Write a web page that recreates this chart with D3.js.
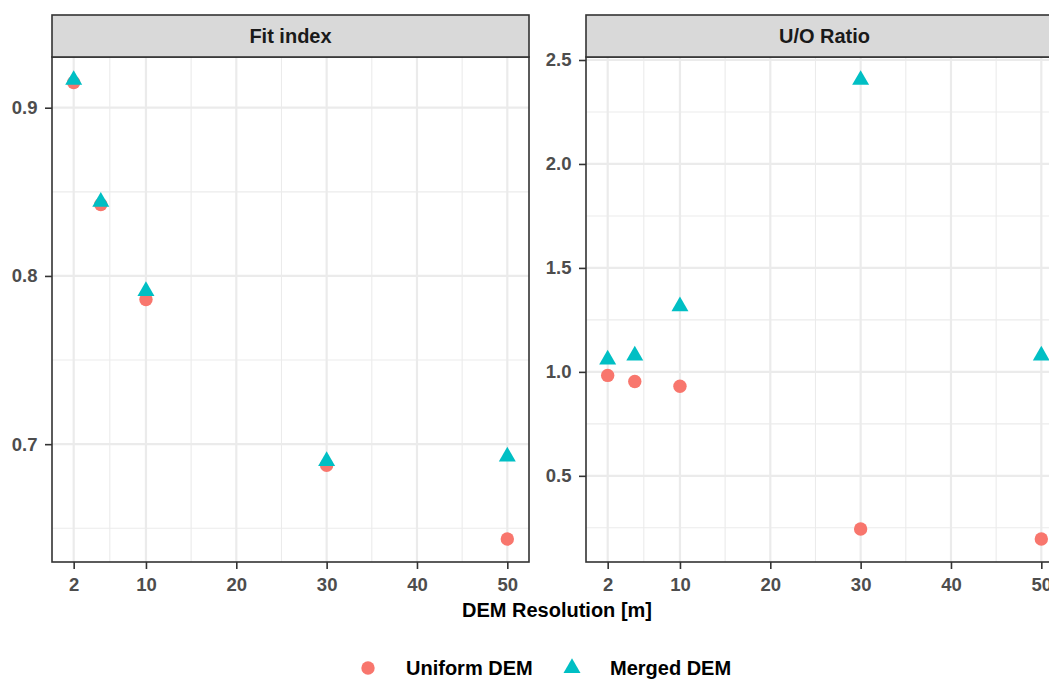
<!DOCTYPE html>
<html>
<head>
<meta charset="utf-8">
<script src="https://cdn.jsdelivr.net/npm/d3@7/dist/d3.min.js"></script>
<style>
  body { margin: 0; background: #ffffff; }
  svg { display: block; font-family: Arial, "Liberation Sans", sans-serif; font-weight: bold; }
</style>
</head>
<body>
<div id="chart"></div>
<script>
// Values
const resolutions = [2, 5, 10, 30, 50];
const fitUniform = [0.915, 0.8425, 0.786, 0.6875, 0.6436];
const fitMerged = [0.9165, 0.844, 0.791, 0.690, 0.6926];
const uoUniform = [0.983, 0.954, 0.931, 0.244, 0.196];
const uoMerged = [1.059, 1.078, 1.315, 2.404, 1.078];

const facetNames = ["Fit index", "U/O Ratio"];
const seriesNames = ["Uniform DEM", "Merged DEM"];
const seriesColors = ["#F8766D", "#00BFC4"];

const xTicks = [2, 10, 20, 30, 40, 50];
const xMinor = [6, 15, 25, 35, 45];
const fitTicks = [0.7, 0.8, 0.9];
const fitMinor = [0.65, 0.75, 0.85];
const uoTicks = [0.5, 1.0, 1.5, 2.0, 2.5];
const uoMinor = [0.25, 0.75, 1.25, 1.75, 2.25];

const width = 1049, height = 680;
const panelTop = 57, panelBottom = 562, panelWidth = 477;
const panelLefts = [52, 586];
const stripTop = 15;

const svg = d3.select("#chart").append("svg")
    .attr("width", width)
    .attr("height", height);

// ggplot style 5% expansion of the data range
function expanded(values) {
    const [lo, hi] = d3.extent(values);
    const pad = (hi - lo) * 0.05;
    return [lo - pad, hi + pad];
}

const circle = d3.symbol().type(d3.symbolCircle).size(141);
const triangle = d3.symbol().type(d3.symbolTriangle).size(125);
const shapes = [circle, triangle];

function drawPanel(i, series, yTicks, yMinor) {
    const left = panelLefts[i];
    const x = d3.scaleLinear().domain(expanded(resolutions)).range([left, left + panelWidth]);
    const y = d3.scaleLinear().domain(expanded(series.flat())).range([panelBottom, panelTop]);

    const g = svg.append("g").attr("class", "panel");

    g.append("rect")
        .attr("x", left).attr("y", panelTop)
        .attr("width", panelWidth).attr("height", panelBottom - panelTop)
        .attr("fill", "#ffffff");

    // minor then major grid
    g.selectAll(".vminor").data(xMinor).enter().append("line")
        .attr("x1", d => x(d)).attr("x2", d => x(d))
        .attr("y1", panelTop).attr("y2", panelBottom)
        .attr("stroke", "#EBEBEB").attr("stroke-width", 1.1);
    g.selectAll(".hminor").data(yMinor).enter().append("line")
        .attr("x1", left).attr("x2", left + panelWidth)
        .attr("y1", d => y(d)).attr("y2", d => y(d))
        .attr("stroke", "#EBEBEB").attr("stroke-width", 1.1);
    g.selectAll(".vmajor").data(xTicks).enter().append("line")
        .attr("x1", d => x(d)).attr("x2", d => x(d))
        .attr("y1", panelTop).attr("y2", panelBottom)
        .attr("stroke", "#EBEBEB").attr("stroke-width", 2.2);
    g.selectAll(".hmajor").data(yTicks).enter().append("line")
        .attr("x1", left).attr("x2", left + panelWidth)
        .attr("y1", d => y(d)).attr("y2", d => y(d))
        .attr("stroke", "#EBEBEB").attr("stroke-width", 2.2);

    // points: uniform first, merged drawn over it
    series.forEach((vals, s) => {
        g.selectAll(".pt" + s).data(vals).enter().append("path")
            .attr("d", shapes[s])
            .attr("transform", (d, k) => `translate(${x(resolutions[k])},${y(d)})`)
            .attr("fill", seriesColors[s]);
    });

    g.append("rect")
        .attr("x", left).attr("y", panelTop)
        .attr("width", panelWidth).attr("height", panelBottom - panelTop)
        .attr("fill", "none").attr("stroke", "#333333").attr("stroke-width", 1.6);

    // strip
    g.append("rect")
        .attr("x", left).attr("y", stripTop)
        .attr("width", panelWidth).attr("height", panelTop - stripTop)
        .attr("fill", "#D9D9D9").attr("stroke", "#333333").attr("stroke-width", 1.6);
    g.append("text")
        .attr("x", left + panelWidth / 2).attr("y", (stripTop + panelTop) / 2)
        .attr("dy", "0.36em")
        .attr("text-anchor", "middle")
        .style("font-size", "20px")
        .style("fill", "#1A1A1A")
        .text(facetNames[i]);

    // axes
    const yAxis = g.append("g")
        .attr("transform", `translate(${left},0)`)
        .call(d3.axisLeft(y).tickValues(yTicks).tickSize(7).tickPadding(7.5).tickFormat(d3.format(".1f")));
    const xAxis = g.append("g")
        .attr("transform", `translate(0,${panelBottom})`)
        .call(d3.axisBottom(x).tickValues(xTicks).tickSize(7).tickPadding(9).tickFormat(d3.format("d")));

    [yAxis, xAxis].forEach(ax => {
        ax.select(".domain").remove();
        ax.selectAll(".tick line").attr("stroke", "#333333").attr("stroke-width", 1.6);
        ax.selectAll(".tick text")
            .style("font-size", "18.5px")
            .style("font-family", "Arial, 'Liberation Sans', sans-serif")
            .style("font-weight", "bold")
            .attr("fill", "#4D4D4D");
    });
}

drawPanel(0, [fitUniform, fitMerged], fitTicks, fitMinor);
drawPanel(1, [uoUniform, uoMerged], uoTicks, uoMinor);

// shared axis title
svg.append("text")
    .attr("x", 557).attr("y", 610)
    .attr("dy", "0.36em")
    .attr("text-anchor", "middle")
    .style("font-size", "20px")
    .style("fill", "#000000")
    .text("DEM Resolution [m]");

// legend
const legendKeys = [368, 572];
const legendLabels = [406, 610];
const legendY = 668;
seriesNames.forEach((name, s) => {
    svg.append("path")
        .attr("d", shapes[s])
        .attr("transform", `translate(${legendKeys[s]},${legendY})`)
        .attr("fill", seriesColors[s]);
    svg.append("text")
        .attr("x", legendLabels[s]).attr("y", legendY)
        .attr("dy", "0.36em")
        .style("font-size", "20px")
        .style("fill", "#000000")
        .text(name);
});
</script>
</body>
</html>
